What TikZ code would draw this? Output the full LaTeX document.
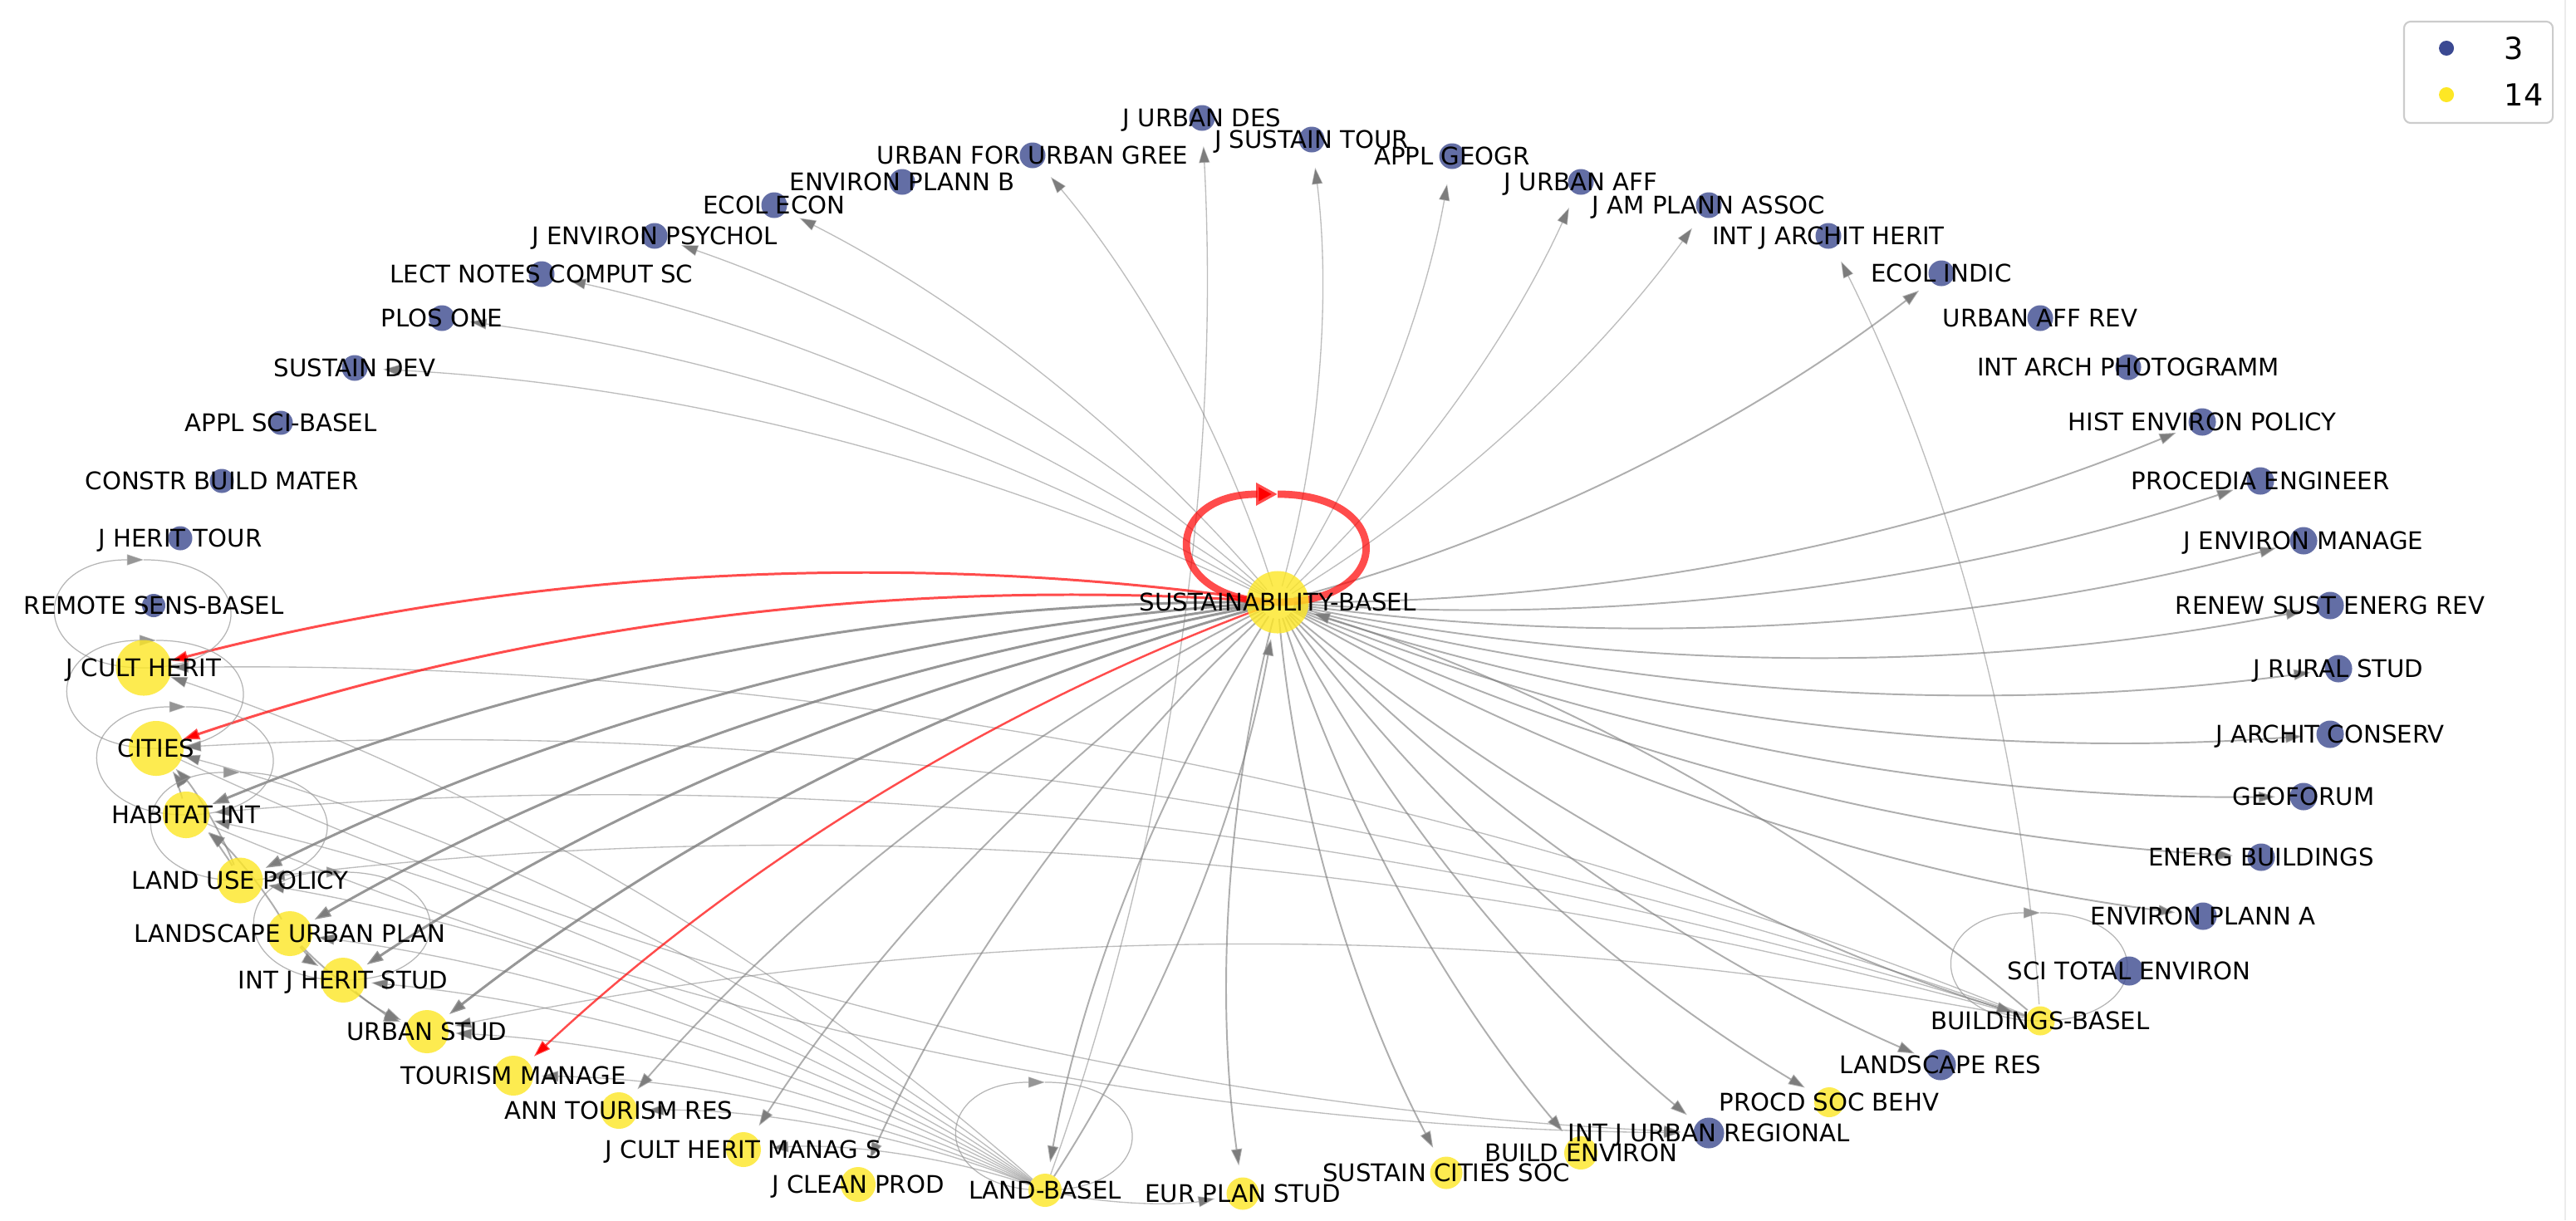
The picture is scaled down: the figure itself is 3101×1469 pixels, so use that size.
\documentclass[tikz,border=0pt]{standalone}
\usepackage{fontspec}
\setmainfont{DejaVu Sans}
\usetikzlibrary{arrows.meta}
\definecolor{nyel}{RGB}{253,231,37}
\definecolor{nblu}{RGB}{61,74,143}
\definecolor{legblu}{RGB}{59,73,146}
\definecolor{egray}{RGB}{125,125,125}
\definecolor{lgray}{RGB}{150,150,150}
\definecolor{framegray}{RGB}{204,204,204}
\newcommand\jselfloop[4]{%
  \draw[#1] ([yshift=#3cm]#2.center) .. controls ([shift={(#4cm,#3cm)}]#2.center) and ([xshift=#4cm]#2.center) .. (#2.center)
    .. controls ([xshift=-#4cm]#2.center) and ([shift={(-#4cm,#3cm)}]#2.center) .. ([yshift=#3cm]#2.center);}
\begin{document}
\begin{tikzpicture}[x=0.01cm,y=0.01cm,
  yel/.style={circle, fill=nyel, fill opacity=0.8, inner sep=0pt, minimum size=#1},
  blu/.style={circle, fill=nblu, fill opacity=0.8, inner sep=0pt, minimum size=#1},
  lbl/.style={font=\fontsize{8.3}{10}\selectfont, inner sep=0pt, text height=6.1pt, text depth=0pt, anchor=center},
  E/.style={draw=egray, draw opacity=0.6, -{Triangle[length=0.2cm,width=0.13cm]}, shorten >=0.34cm, shorten <=0.2cm, bend right=11.3, looseness=0.87},
  ethick/.style={E, line width=0.85pt, draw opacity=0.8},
  emid/.style={E, line width=0.55pt, draw opacity=0.62},
  ethin/.style={E, line width=0.38pt, draw opacity=0.5},
  ered/.style={E, draw=red, draw opacity=0.7, line width=0.85pt},
  loopg/.style={draw=lgray, draw opacity=0.7, line width=0.35pt, -{Triangle[length=0.2cm,width=0.13cm]}},
  loopr/.style={draw=red, draw opacity=0.7, line width=2.5pt, -{Triangle[length=0.26cm,width=0.26cm]}},
  legtxt/.style={font=\fontsize{10.4}{12}\selectfont, inner sep=0pt, anchor=west}
]
\path[fill=white] (0,0) rectangle (3101,-1469);
\useasboundingbox (0,0) rectangle (3101,-1469);
\draw[draw={rgb,255:red,236;green,236;blue,236}, line width=0.6pt] (3088,0) -- (3088,-1469);

% ---------- node positions (drawn later) ----------
\path
 (1538,-725) coordinate (S)
 (173,-804) coordinate (JCH)
 (188,-901) coordinate (CIT)
 (224,-981) coordinate (HAB)
 (289,-1060) coordinate (LUP)
 (349,-1124) coordinate (LUPL)
 (413,-1180) coordinate (IJHS)
 (514,-1242) coordinate (US)
 (618,-1295) coordinate (TM)
 (745,-1337) coordinate (ATR)
 (895,-1384) coordinate (JCHMS)
 (1033,-1426) coordinate (JCP)
 (1258,-1433) coordinate (LB)
 (1496,-1437) coordinate (EPS)
 (1741,-1412) coordinate (SCS)
 (1903,-1388) coordinate (BE)
 (2202,-1327) coordinate (PSB)
 (2456,-1229) coordinate (BB)
 (2057,-1364) coordinate (IJUR)
 (2336,-1282) coordinate (LR)
 (2563,-1169) coordinate (STE)
 (2652,-1103) coordinate (EPA)
 (2722,-1032) coordinate (EB)
 (2773,-959) coordinate (GEO)
 (2805,-884) coordinate (JAC)
 (2815,-805) coordinate (JRS)
 (2805,-729) coordinate (RSER)
 (2773,-651) coordinate (JEM)
 (2721,-579) coordinate (PE)
 (2651,-508) coordinate (HEP)
 (2562,-442) coordinate (IAP)
 (2456,-383) coordinate (UAR)
 (2337,-329) coordinate (EI)
 (2201,-284) coordinate (IJAH)
 (2057,-247) coordinate (JAPA)
 (1903,-219) coordinate (JUA)
 (1748,-188) coordinate (AG)
 (1579,-168) coordinate (JST)
 (1447,-142) coordinate (JUD)
 (1243,-187) coordinate (UFUG)
 (1086,-219) coordinate (EPB)
 (932,-247) coordinate (EE)
 (788,-284) coordinate (JEP)
 (652,-330) coordinate (LNCS)
 (532,-383) coordinate (PLOS)
 (427,-443) coordinate (SD)
 (338,-509) coordinate (ASB)
 (267,-579) coordinate (CBM)
 (217,-648) coordinate (JHT)
 (185,-729) coordinate (RSB);

% ---------- edges ----------
\foreach \t in {SD,PLOS,LNCS,JEP,EE,UFUG,JST,AG,JUA,JAPA}
  \draw[ethin] (S) to (\t);
\foreach \t in {ATR,JCHMS,JCP,LB,EPS,SCS,BE,IJUR,PSB,LR,BB,EI,HEP,PE,JEM,RSER,JRS,JAC,GEO,EB,EPA}
  \draw[emid] (S) to (\t);
\foreach \t in {HAB,LUP,LUPL,IJHS,US}
  \draw[ethick] (S) to (\t);
\draw[ethin] (LB) to (JUD);
\draw[emid, shorten >=0.45cm] (LB) to (S);
\draw[ethin] (LB) to (EPS);
\foreach \t in {JCH,CIT,HAB,LUP,LUPL,IJHS,US,TM,ATR,JCHMS}
  \draw[ethin] (LB) to (\t);
\foreach \t in {JCH,CIT,HAB,LUP,US}
  \draw[ethin] (BB) to (\t);
\draw[ethin] (BB) to (IJAH);
\draw[emid, shorten >=0.45cm] (BB) to (S);
\draw[ethin] (CIT) to (IJUR);
\draw[ethin] (HAB) to (IJUR);
\draw[emid] (HAB) to (CIT);
\draw[emid] (LUP) to (CIT);
\draw[emid] (LUP) to (HAB);
\draw[emid] (LUPL) to (HAB);
\draw[emid] (LUPL) to (IJHS);
\draw[emid] (IJHS) to (US);
\draw[emid] (LUPL) to (US);
\draw[ered] (S) to (JCH);
\draw[ered] (S) to (CIT);
\draw[ered, line width=0.7pt] (S) to (TM);
\foreach \n in {JCH,CIT,HAB,LUP,IJHS,LB,BB}
  {\jselfloop{loopg}{\n}{1.3}{1.4}}
\jselfloop{loopr}{S}{1.3}{1.42}

% ---------- nodes ----------
\node[yel=0.75cm] (nS) at (S) {};
\node[yel=0.67cm] (nJCH) at (JCH) {};
\node[yel=0.66cm] (nCIT) at (CIT) {};
\node[yel=0.56cm] (nHAB) at (HAB) {};
\node[yel=0.55cm] (nLUP) at (LUP) {};
\node[yel=0.54cm] (nLUPL) at (LUPL) {};
\node[yel=0.54cm] (nIJHS) at (IJHS) {};
\node[yel=0.52cm] (nUS) at (US) {};
\node[yel=0.48cm] (nTM) at (TM) {};
\node[yel=0.44cm] (nATR) at (ATR) {};
\node[yel=0.42cm] (nJCHMS) at (JCHMS) {};
\node[yel=0.42cm] (nJCP) at (JCP) {};
\node[yel=0.40cm] (nLB) at (LB) {};
\node[yel=0.39cm] (nEPS) at (EPS) {};
\node[yel=0.39cm] (nSCS) at (SCS) {};
\node[yel=0.40cm] (nBE) at (BE) {};
\node[yel=0.36cm] (nPSB) at (PSB) {};
\node[yel=0.35cm] (nBB) at (BB) {};
\node[blu=0.37cm] (nIJUR) at (IJUR) {};
\node[blu=0.37cm] (nLR) at (LR) {};
\node[blu=0.35cm] (nSTE) at (STE) {};
\foreach \n in {EPA,EB,GEO,JAC,JRS,RSER,JEM,PE,HEP}
  \node[blu=0.33cm] (n\n) at (\n) {};
\foreach \n in {IAP,UAR,EI,IJAH,JAPA,JUA,AG,JST,JUD,UFUG,EPB,EE,JEP,LNCS,PLOS,SD}
  \node[blu=0.31cm] (n\n) at (\n) {};
\foreach \n in {ASB,CBM,JHT}
  \node[blu=0.29cm] (n\n) at (\n) {};
\node[blu=0.28cm] (nRSB) at (RSB) {};

% ---------- labels ----------
\node[lbl] (tS) at (S) {SUSTAINABILITY-BASEL};
\node[lbl] (tJCH) at (JCH) {J CULT HERIT};
\node[lbl] (tCIT) at (CIT) {CITIES};
\node[lbl] (tHAB) at (HAB) {HABITAT INT};
\node[lbl] (tLUP) at (LUP) {LAND USE POLICY};
\node[lbl] (tLUPL) at (LUPL) {LANDSCAPE URBAN PLAN};
\node[lbl] (tIJHS) at (IJHS) {INT J HERIT STUD};
\node[lbl] (tUS) at (US) {URBAN STUD};
\node[lbl] (tTM) at (TM) {TOURISM MANAGE};
\node[lbl] (tATR) at (ATR) {ANN TOURISM RES};
\node[lbl] (tJCHMS) at (JCHMS) {J CULT HERIT MANAG S};
\node[lbl] (tJCP) at (JCP) {J CLEAN PROD};
\node[lbl] (tLB) at (LB) {LAND-BASEL};
\node[lbl] (tEPS) at (EPS) {EUR PLAN STUD};
\node[lbl] (tSCS) at (SCS) {SUSTAIN CITIES SOC};
\node[lbl] (tBE) at (BE) {BUILD ENVIRON};
\node[lbl] (tPSB) at (PSB) {PROCD SOC BEHV};
\node[lbl] (tBB) at (BB) {BUILDINGS-BASEL};
\node[lbl] (tIJUR) at (IJUR) {INT J URBAN REGIONAL};
\node[lbl] (tLR) at (LR) {LANDSCAPE RES};
\node[lbl] (tSTE) at (STE) {SCI TOTAL ENVIRON};
\node[lbl] (tEPA) at (EPA) {ENVIRON PLANN A};
\node[lbl] (tEB) at (EB) {ENERG BUILDINGS};
\node[lbl] (tGEO) at (GEO) {GEOFORUM};
\node[lbl] (tJAC) at (JAC) {J ARCHIT CONSERV};
\node[lbl] (tJRS) at (JRS) {J RURAL STUD};
\node[lbl] (tRSER) at (RSER) {RENEW SUST ENERG REV};
\node[lbl] (tJEM) at (JEM) {J ENVIRON MANAGE};
\node[lbl] (tPE) at (PE) {PROCEDIA ENGINEER};
\node[lbl] (tHEP) at (HEP) {HIST ENVIRON POLICY};
\node[lbl] (tIAP) at (IAP) {INT ARCH PHOTOGRAMM};
\node[lbl] (tUAR) at (UAR) {URBAN AFF REV};
\node[lbl] (tEI) at (EI) {ECOL INDIC};
\node[lbl] (tIJAH) at (IJAH) {INT J ARCHIT HERIT};
\node[lbl] (tJAPA) at (JAPA) {J AM PLANN ASSOC};
\node[lbl] (tJUA) at (JUA) {J URBAN AFF};
\node[lbl] (tAG) at (AG) {APPL GEOGR};
\node[lbl] (tJST) at (JST) {J SUSTAIN TOUR};
\node[lbl] (tJUD) at (JUD) {J URBAN DES};
\node[lbl] (tUFUG) at (UFUG) {URBAN FOR URBAN GREE};
\node[lbl] (tEPB) at (EPB) {ENVIRON PLANN B};
\node[lbl] (tEE) at (EE) {ECOL ECON};
\node[lbl] (tJEP) at (JEP) {J ENVIRON PSYCHOL};
\node[lbl] (tLNCS) at (LNCS) {LECT NOTES COMPUT SC};
\node[lbl] (tPLOS) at (PLOS) {PLOS ONE};
\node[lbl] (tSD) at (SD) {SUSTAIN DEV};
\node[lbl] (tASB) at (ASB) {APPL SCI-BASEL};
\node[lbl] (tCBM) at (CBM) {CONSTR BUILD MATER};
\node[lbl] (tJHT) at (JHT) {J HERIT TOUR};
\node[lbl] (tRSB) at (RSB) {REMOTE SENS-BASEL};

% ---------- legend ----------
\node[draw=framegray, line width=0.6pt, rounded corners=0.08cm, fill=white, fill opacity=0.8, draw opacity=1,
      minimum width=1.79cm, minimum height=1.22cm, inner sep=0pt] (legend) at (2983.5,-87) {};
\node[circle, fill=legblu, minimum size=0.18cm, inner sep=0pt] (dot3) at (2945,-58) {};
\node[circle, fill=nyel, minimum size=0.18cm, inner sep=0pt] (dot14) at (2945,-114) {};
\node[legtxt] (leg3) at (3014,-58) {3};
\node[legtxt] (leg14) at (3014,-114) {14};
\end{tikzpicture}
\end{document}
